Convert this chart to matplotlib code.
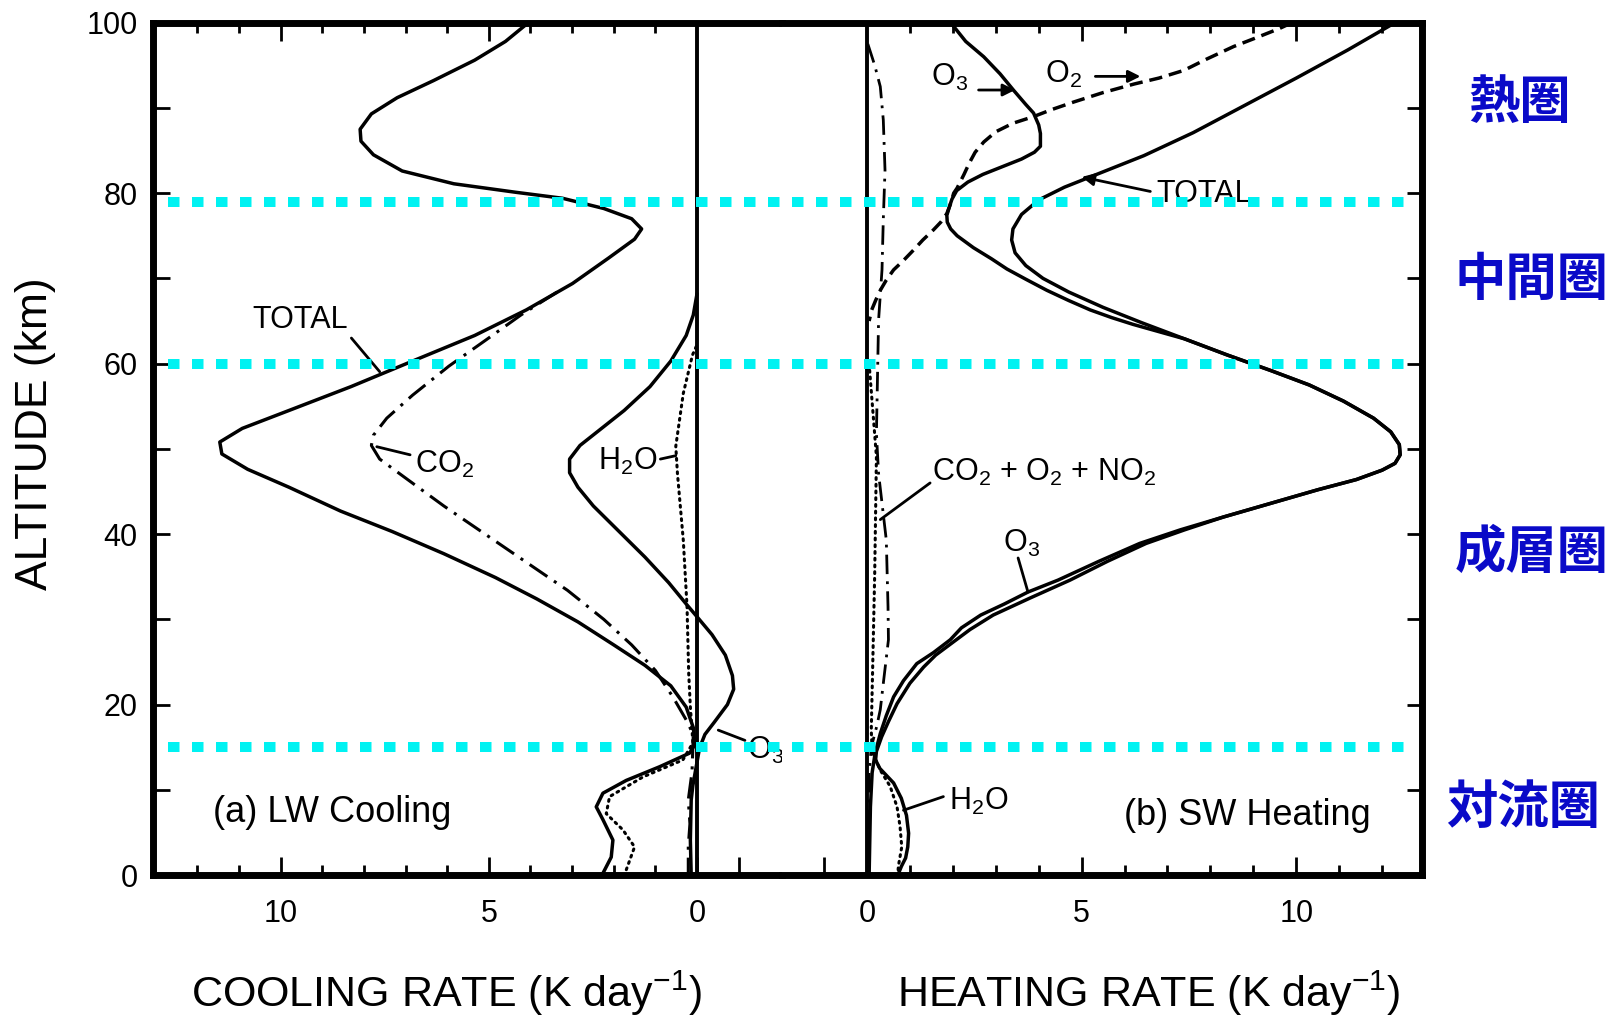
import matplotlib
matplotlib.use('Agg')
import matplotlib.pyplot as plt
from matplotlib.lines import Line2D
from matplotlib.transforms import blended_transform_factory

plt.rcParams['font.family'] = ['Liberation Sans', 'DejaVu Sans']
plt.rcParams['mathtext.fontset'] = 'custom'
plt.rcParams['mathtext.rm'] = 'Liberation Sans'
plt.rcParams['mathtext.it'] = 'Liberation Sans:italic'
plt.rcParams['mathtext.default'] = 'regular'

# ---- (a) longwave cooling rate (K/day) against altitude (km) ----
lw_total_rate = [4.05, 4.60, 5.34, 6.33, 7.20, 7.82, 8.09, 8.07, 7.77, 7.08, 5.84, 4.35,
                 3.23, 2.24, 1.57, 1.33, 1.50, 2.12, 2.99, 4.10, 5.34, 6.83, 8.31, 9.80,
                 10.92, 11.46, 11.41, 10.79, 9.80, 8.56, 7.32, 6.08, 4.84, 3.85, 2.86,
                 2.00, 1.25, 0.63, 0.26, 0.09, 0.05, 0.18, 0.90, 1.70, 2.26, 2.42, 2.26,
                 2.02, 2.06, 2.26, 2.30]
lw_total_alt = [100.0, 97.8, 95.6, 93.2, 91.2, 89.3, 87.5, 86.1, 84.5, 82.6, 81.1, 80.1,
                79.4, 78.2, 77.0, 75.8, 74.6, 72.4, 69.4, 66.3, 63.3, 60.3, 57.3, 54.5,
                52.4, 50.8, 49.4, 47.6, 45.5, 42.7, 40.3, 37.7, 34.9, 32.4, 29.7,
                27.0, 24.6, 22.2, 19.7, 17.3, 15.3, 14.3, 12.7, 11.1, 9.6, 8.0, 6.5,
                4.1, 2.1, 0.2, 0.0]

lw_co2_rate = [3.36, 4.23, 5.09, 5.96, 6.83, 7.45, 7.77, 7.82, 7.62, 6.95, 6.08, 5.09,
               4.10, 3.11, 2.24, 1.57, 1.00, 0.58, 0.26, 0.09, 0.12, 0.21, 0.17, 0.21,
               0.21]
lw_co2_alt = [68.4, 65.7, 62.7, 59.7, 56.3, 53.6, 51.6, 50.4, 48.8, 46.4, 43.3, 40.0,
              36.7, 33.4, 30.0, 27.0, 24.0, 20.9, 18.2, 16.5, 12.1, 8.8, 6.0, 3.4,
              0.0]

lw_o3_rate = [0.00, 0.09, 0.26, 0.63, 1.13, 1.75, 2.37, 2.81, 3.06, 3.06, 2.86, 2.49,
              1.87, 1.25, 0.68, 0.26, 0.00, -0.36, -0.68, -0.85, -0.88, -0.73, -0.41,
              -0.19, -0.06, 0.02, 0.10, 0.14, 0.16, 0.14]
lw_o3_alt = [68.2, 65.7, 63.3, 60.3, 57.3, 54.5, 52.1, 50.4, 48.8, 47.2, 45.5, 43.3,
             40.3, 37.3, 34.3, 31.8, 30.3, 28.2, 25.8, 23.4, 21.8, 20.0, 17.9,
             16.5, 14.9, 12.7, 10.5, 8.8, 4.1, 0.0]

lw_h2o_rate = [0.02, 0.11, 0.33, 0.51, 0.47, 0.33, 0.24, 0.20, 0.16, 0.12, 0.10,
               0.34, 1.30, 2.10, 2.18, 1.78, 1.50, 1.70, 1.75]
lw_h2o_alt = [62.0, 61.0, 56.5, 50.3, 47.1, 39.3, 31.5, 23.7, 19.7, 17.0, 15.5,
              13.5, 11.5, 9.2, 7.2, 5.3, 3.3, 0.6, 0.0]

# ---- (b) shortwave heating rate (K/day) against altitude (km) ----
sw_total_rate = [12.30, 11.20, 10.00, 8.80, 7.60, 6.45, 5.45, 4.60, 4.00, 3.60, 3.40,
                 3.37, 3.45, 3.70, 4.10, 4.70, 5.50, 6.40, 7.40, 8.40, 9.40, 10.30,
                 11.10, 11.80, 12.20, 12.40, 12.42, 12.30, 12.00, 11.40, 10.50, 9.40,
                 8.30, 7.40, 6.50, 5.60, 4.73, 3.80, 2.94, 2.40, 2.00, 1.60, 1.32,
                 1.00, 0.70, 0.50, 0.34, 0.22, 0.20, 0.30, 0.62, 0.80, 0.92, 0.97,
                 0.95, 0.90, 0.80, 0.72]
sw_total_alt = [100.0, 96.8, 93.5, 90.3, 87.1, 84.4, 82.4, 80.7, 79.2, 77.5, 75.8,
                74.5, 73.0, 71.5, 70.0, 68.4, 66.6, 64.8, 62.9, 61.0, 59.2, 57.5,
                55.6, 53.6, 52.0, 50.5, 49.3, 48.3, 47.5, 46.4, 45.2, 43.6,
                42.0, 40.5, 38.9, 36.8, 34.6, 32.5, 30.5, 28.8, 27.3, 25.8, 24.4,
                22.5, 20.1, 18.0, 16.2, 14.5, 13.5, 12.5, 10.8, 9.0, 7.0, 4.9,
                3.3, 2.0, 1.0, 0.0]

sw_o3_rate = [1.95, 2.30, 2.72, 3.10, 3.41, 3.70, 3.88, 4.00, 4.04, 4.04, 3.90, 3.60,
              3.10, 2.70, 2.35, 2.09, 1.98, 1.92, 1.86, 1.87, 1.95, 2.10, 2.48, 2.90,
              3.26, 3.70, 4.19, 4.70, 5.20, 5.70, 6.20, 7.40, 8.40, 9.40, 10.30,
              11.10, 11.80, 12.20, 12.40, 12.42, 12.30, 12.00, 11.40, 10.50, 9.40,
              8.30, 7.30, 6.35, 5.40, 4.45, 3.75, 3.20, 2.65, 2.20, 1.94, 1.55, 1.16,
              0.85, 0.62, 0.45, 0.31, 0.19, 0.12, 0.08, 0.05]
sw_o3_alt = [100.0, 97.8, 96.0, 94.0, 92.1, 90.4, 89.4, 88.0, 87.0, 85.5, 84.8, 84.0,
             83.0, 82.2, 81.3, 80.3, 79.3, 78.4, 77.4, 76.6, 75.8, 75.0, 73.6, 72.3,
             71.1, 69.9, 68.6, 67.4, 66.3, 65.4, 64.6, 62.9, 61.0, 59.2, 57.5,
             55.6, 53.6, 52.0, 50.5, 49.3, 48.3, 47.5, 46.4, 45.2, 43.6,
             42.0, 40.5, 38.9, 36.8, 34.6, 33.2, 31.8, 30.5, 29.0, 27.6, 26.1, 24.8,
             22.8, 20.9, 18.7, 16.6, 14.3, 12.0, 8.0, 0.0]

sw_o2_rate = [9.90, 9.60, 9.00, 8.54, 7.90, 7.38, 6.80, 6.22, 5.50, 4.82, 4.30, 3.89,
              3.40, 3.00, 2.72, 2.52, 2.38, 2.26, 2.17, 2.10, 2.02, 1.95, 1.86,
              1.72, 1.55, 1.30, 1.08, 0.85, 0.62, 0.45, 0.31, 0.20, 0.11, 0.05]
sw_o2_alt = [100.0, 99.3, 98.1, 97.2, 95.7, 94.4, 93.5, 92.8, 91.8, 90.7, 89.8, 89.0,
             88.2, 87.2, 86.0, 84.8, 83.5, 82.2, 81.3, 80.6, 80.0, 78.8, 77.6,
             76.6, 75.7, 74.5, 73.3, 72.1, 71.0, 69.8, 68.6, 67.4, 66.3, 65.0]

sw_minor_rate = [0.02, 0.18, 0.31, 0.38, 0.42, 0.38, 0.35, 0.27, 0.22, 0.27, 0.45,
                 0.49, 0.50, 0.39, 0.31, 0.23, 0.10, 0.05, 0.05]
sw_minor_alt = [97.5, 95.0, 92.5, 88.6, 82.7, 76.9, 71.0, 65.1, 51.8, 47.1, 39.3,
                31.5, 27.6, 22.9, 19.4, 17.5, 15.0, 12.0, 0.0]

sw_h2o_rate = [0.05, 0.22, 0.18, 0.13, 0.10, 0.12, 0.31, 0.54, 0.70, 0.77, 0.81, 0.73,
               0.72]
sw_h2o_alt = [60.0, 49.1, 35.4, 23.7, 17.0, 14.5, 12.3, 10.4, 8.0, 5.7, 3.3, 1.0,
              0.0]

# boundaries between atmospheric layers (km) and the layer names
layer_bounds = [15.0, 60.0, 79.0]
layer_names = ['熱圏', '中間圏', '成層圏', '対流圏']
layer_label_alt = [90.6, 69.9, 37.9, 7.9]

cool_ticks = [-1, 0, 5, 10]
cool_ticklabels = ['', '0', '5', '10']
heat_ticks = [-1, 0, 5, 10]
heat_ticklabels = ['', '0', '5', '10']
minor_ticks = [1, 2, 3, 4, 6, 7, 8, 9, 11, 12]
alt_ticks = list(range(0, 101, 10))

INK = 'k'
CURVE_LW = 2.5
DASHDOT = (0, (7, 2.6, 1, 2.6))
DASHED = (0, (3.8, 2.0))
DOTTED = (0, (0.6, 1.6))

fig = plt.figure(figsize=(16.18, 10.17), dpi=100)
ax1 = fig.add_axes([0.0944, 0.1396, 0.3889, 0.8381])
ax2 = fig.add_axes([0.4833, 0.1396, 0.3956, 0.8381])


def style_panel(ax, side, ticks, ticklabels, xlim):
    ax.set_xlim(*xlim)
    ax.set_ylim(0, 100)
    for sp in ax.spines.values():
        sp.set_linewidth(5)
    ax.spines['right' if side == 'left' else 'left'].set_visible(False)
    ax.set_xticks(ticks)
    ax.set_xticklabels(ticklabels)
    ax.set_xticks(minor_ticks, minor=True)
    ax.tick_params(axis='x', which='both', direction='in', width=2, top=False)
    ax.tick_params(axis='x', which='major', length=13, pad=17, labelsize=22)
    ax.tick_params(axis='x', which='minor', length=7.5)
    ax.set_yticks(alt_ticks)
    if side == 'left':
        ax.set_yticklabels([str(a) if a % 20 == 0 else '' for a in alt_ticks])
        ax.tick_params(axis='y', direction='in', width=2, length=12, pad=11,
                       labelsize=22, left=True, right=False)
    else:
        ax.yaxis.tick_right()
        ax.set_yticklabels([])
        ax.tick_params(axis='y', direction='in', width=2, length=11, left=False,
                       right=True)
    # top ticks carry no labels and stop at the zero line
    top = ax.secondary_xaxis('top')
    top.set_xticks([5, 10])
    top.set_xticklabels([])
    top.set_xticks(minor_ticks, minor=True)
    top.tick_params(axis='x', which='both', direction='in', width=2)
    top.tick_params(axis='x', which='major', length=13)
    top.tick_params(axis='x', which='minor', length=7.5)
    for sp in top.spines.values():
        sp.set_visible(False)
    ax.axvline(0, color=INK, lw=2.8, zorder=2)


style_panel(ax1, 'left', cool_ticks, cool_ticklabels, (13.07, -2.04))
style_panel(ax2, 'right', heat_ticks, heat_ticklabels, (-1.98, 12.93))

solid = dict(color=INK, lw=CURVE_LW, solid_joinstyle='round', solid_capstyle='round')

# longwave curves
ax1.plot(lw_total_rate, lw_total_alt, **solid)
ax1.plot(lw_co2_rate, lw_co2_alt, color=INK, lw=2.2, ls=DASHDOT)
ax1.plot(lw_o3_rate, lw_o3_alt, **solid)
ax1.plot(lw_h2o_rate, lw_h2o_alt, color=INK, lw=2.2, ls=DOTTED, dash_capstyle='round')

# shortwave curves
ax2.plot(sw_total_rate, sw_total_alt, **solid)
ax2.plot(sw_o3_rate, sw_o3_alt, **solid)
ax2.plot(sw_o2_rate, sw_o2_alt, color=INK, lw=CURVE_LW, ls=DASHED)
ax2.plot(sw_minor_rate, sw_minor_alt, color=INK, lw=2.0, ls=DASHDOT)
ax2.plot(sw_h2o_rate, sw_h2o_alt, color=INK, lw=2.2, ls=DOTTED, dash_capstyle='round')


def leader(ax, start, end, arrow=False):
    ax.annotate('', xy=end, xytext=start, zorder=3,
                arrowprops=dict(arrowstyle='-|>' if arrow else '-', color=INK,
                                lw=2, shrinkA=0, shrinkB=0, mutation_scale=18))


lab = dict(fontsize=22, color=INK, zorder=3)

ax1.text(9.53, 65.1, 'TOTAL', ha='center', va='center', **lab)
leader(ax1, (8.3, 63.0), (7.62, 59.05))
ax1.text(6.78, 48.2, 'CO$_2$', ha='left', va='center', **lab)
leader(ax1, (6.89, 49.3), (7.69, 50.25))
ax1.text(2.37, 48.5, 'H$_2$O', ha='left', va='center', **lab)
leader(ax1, (0.88, 48.8), (0.51, 49.2))
ax1.text(-1.2, 14.6, 'O$_3$', ha='left', va='center', **lab)
leader(ax1, (-0.51, 17.0), (-1.15, 15.8))
ax1.text(8.77, 7.3, '(a) LW Cooling', ha='center', va='center', fontsize=26,
         color=INK)

ax2.text(1.92, 93.6, 'O$_3$', ha='center', va='center', **lab)
leader(ax2, (2.6, 92.1), (3.45, 92.1), arrow=True)
ax2.text(4.57, 93.9, 'O$_2$', ha='center', va='center', **lab)
leader(ax2, (5.32, 93.7), (6.37, 93.7), arrow=True)
ax2.text(6.75, 79.9, 'TOTAL', ha='left', va='center', fontsize=22, color=INK,
         zorder=6, bbox=dict(facecolor='white', edgecolor='none', pad=1))
leader(ax2, (6.6, 80.2), (5.0, 81.9), arrow=True)
ax2.text(1.51, 47.2, 'CO$_2$ + O$_2$ + NO$_2$', ha='left', va='center', **lab)
leader(ax2, (1.47, 46.0), (0.31, 41.7))
ax2.text(3.61, 38.9, 'O$_3$', ha='center', va='center', **lab)
leader(ax2, (3.52, 37.2), (3.75, 33.2))
ax2.text(1.92, 8.6, 'H$_2$O', ha='left', va='center', **lab)
leader(ax2, (1.78, 9.2), (0.85, 7.6))
ax2.text(8.85, 7.0, '(b) SW Heating', ha='center', va='center', fontsize=26,
         color=INK)

# dotted layer boundaries run across both panels
span = blended_transform_factory(fig.transFigure, ax1.transData)
for alt in layer_bounds:
    fig.add_artist(Line2D([0.1038, 0.8708], [alt, alt], transform=span,
                          color='#00F2F2', lw=7.2, ls=(0, (1.15, 1.25)),
                          dash_capstyle='butt', zorder=5))

for name, alt, x in zip(layer_names, layer_label_alt, [0.9394, 0.9468, 0.9468, 0.9413]):
    fig.text(x, alt, name, transform=span, ha='center', va='center',
             fontsize=37, fontweight='bold', color='#0A0AC8',
             family=['Noto Sans CJK JP', 'DejaVu Sans'])

fig.text(0.0222, 0.5737, 'ALTITUDE (km)', rotation=90, ha='center', va='center',
         fontsize=32)
fig.text(0.2757, 0.0230, 'COOLING RATE (K day$^{-1}$)', ha='center', va='center',
         fontsize=31)
fig.text(0.7099, 0.0230, 'HEATING RATE (K day$^{-1}$)', ha='center', va='center',
         fontsize=31)

fig.savefig('out.png', dpi=100)
